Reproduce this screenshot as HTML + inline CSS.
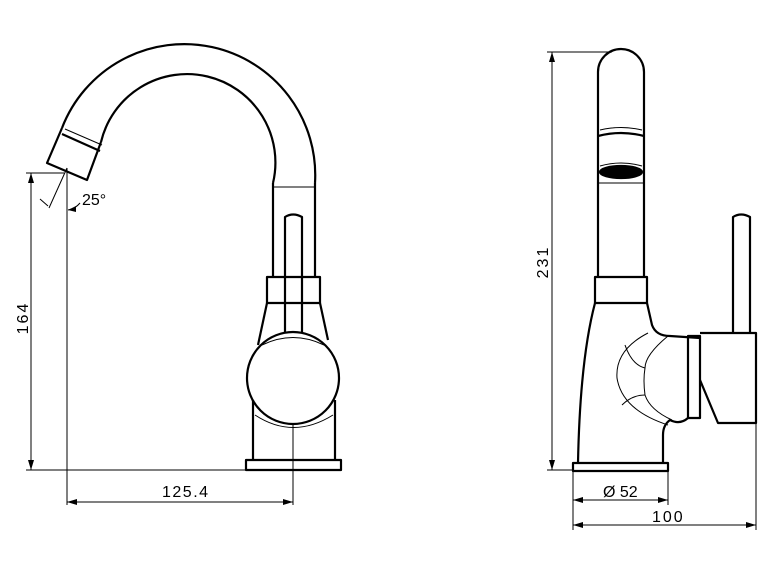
<!DOCTYPE html>
<html><head><style>html,body{margin:0;padding:0;background:#fff}svg{display:block}</style></head>
<body>
<svg width="772" height="579" viewBox="0 0 772 579" xmlns="http://www.w3.org/2000/svg" font-family="Liberation Sans, sans-serif">
<g fill="none" stroke="#000" stroke-width="2.2" stroke-linejoin="round">
<path d="M315,183 A131,131 0 0 0 62,128"/>
<path d="M273,183 A88,88 0 0 0 101,142"/>
<path d="M62,128 L47,163 L87,180 L101,142"/>
<line x1="62" y1="134" x2="100" y2="151"/>
<line x1="273" y1="183" x2="273" y2="277"/>
<line x1="315" y1="183" x2="315" y2="277"/>
<rect x="267" y="277" width="53" height="26"/>
<path d="M285,333 L285,217 Q293,212 302,217 L302,333"/>
<path d="M267,303 L258,345"/>
<path d="M320,303 L328,340"/>
<circle cx="293" cy="378" r="46"/>
<path d="M253,400 L253,460 M335,400 L335,460"/>
<rect x="246" y="460" width="95" height="10"/>
<!-- RIGHT VIEW -->
<path d="M598,277 L598,72 A23,23 0 0 1 644,72 L644,277"/>
<path d="M598,136 Q621,130 644,136"/>
<ellipse cx="621" cy="172" rx="21" ry="6" fill="#000"/>
<rect x="595" y="277" width="52" height="26"/>
<path d="M595,303 Q580,360 578,463"/>
<path d="M647,303 L652,325 Q656,336 670,336 L700,338"/>
<rect x="688" y="336" width="12" height="82"/>
<path d="M700,333 L756,333 L756,423 L718,423 L700,380"/>
<path d="M733,333 L733,217 Q741,212 750,217 L750,333"/>
<path d="M688,418 Q680,425 670,420 Q663,425 663,435 L663,463"/>
<rect x="573" y="463" width="95" height="8"/>
</g>
<g fill="none" stroke="#000" stroke-width="1">
<line x1="274" y1="187" x2="314" y2="187"/>
<line x1="65" y1="129" x2="102" y2="145"/>
<path d="M262,345 Q293,330 324,345"/>
<path d="M255,415 Q293,440 333,415"/>
<line x1="293" y1="424" x2="293" y2="505"/>
<!-- right hub lines -->
<path d="M648,333 Q615,350 617,378 Q622,410 668,425"/>
<path d="M668,336 Q645,355 645,368 Q643,380 645,395 Q650,410 672,420"/>
<path d="M625,345 Q632,365 645,368"/>
<path d="M622,405 Q632,395 645,395"/>
<path d="M600,130 Q621,125 642,130"/>
<path d="M600,166 Q621,160 642,166"/>
<line x1="599" y1="183" x2="643" y2="183"/>
<!-- dims left -->
<line x1="26" y1="173" x2="64" y2="173"/>
<line x1="26" y1="470" x2="246" y2="470"/>
<line x1="31" y1="173" x2="31" y2="470"/>
<line x1="67" y1="168" x2="67" y2="505"/>
<line x1="67" y1="502" x2="293" y2="502"/>
<line x1="67" y1="168" x2="49" y2="208"/>
<line x1="40" y1="199" x2="48" y2="206"/>
<path d="M68,210 Q75,209 80,203"/>
<!-- dims right -->
<line x1="547" y1="52" x2="612" y2="52"/>
<line x1="547" y1="470" x2="573" y2="470"/>
<line x1="552" y1="52" x2="552" y2="470"/>
<line x1="573" y1="471" x2="573" y2="530"/>
<line x1="668" y1="471" x2="668" y2="505"/>
<line x1="756" y1="423" x2="756" y2="530"/>
<line x1="573" y1="500" x2="668" y2="500"/>
<line x1="573" y1="525" x2="756" y2="525"/>
</g>
<g fill="#000">
<path d="M31,173 l-3,10 l6,0z M31,470 l-3,-10 l6,0z"/>
<path d="M67,502 l10,-3 l0,6z M293,502 l-10,-3 l0,6z"/>
<path d="M68,210 l8,-4 l0,6z"/>
<path d="M552,52 l-3,10 l6,0z M552,470 l-3,-10 l6,0z"/>
<path d="M573,500 l10,-3 l0,6z M668,500 l-10,-3 l0,6z"/>
<path d="M573,525 l10,-3 l0,6z M756,525 l-10,-3 l0,6z"/>
</g>
<g font-size="16" fill="#000">
<text x="82" y="205">25°</text>
<text x="162" y="497" letter-spacing="1.5">125.4</text>
<text transform="translate(28,318) rotate(-90)" text-anchor="middle" letter-spacing="2">164</text>
<text transform="translate(548,262) rotate(-90)" text-anchor="middle" letter-spacing="2">231</text>
<text x="603" y="497">Ø 52</text>
<text x="652" y="522" letter-spacing="2">100</text>
</g>
</svg>
</body></html>
